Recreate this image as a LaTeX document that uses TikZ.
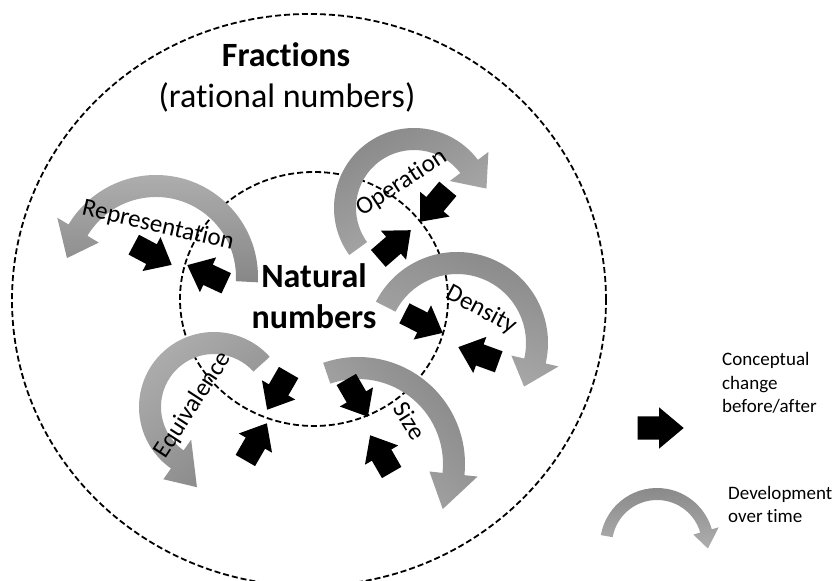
\documentclass[tikz,border=0pt]{standalone}
\usepackage{fontspec}
\setmainfont{Carlito}[Ligatures=NoCommon]
\usepackage{tikz}
\usetikzlibrary{calc,shapes.arrows}

\definecolor{devdark}{HTML}{878787}
\definecolor{devlight}{HTML}{AEAEAE}

% centre, radius, band, start, end, tip, tip offset, shading angle
\newcommand{\devarrow}[8]{%
  \pgfmathsetmacro{\devin}{#2-#3}
  \pgfmathsetmacro{\devout}{#2+0.6*#3}
  \pgfmathsetmacro{\devlow}{#2-1.6*#3}
  \pgfmathsetmacro{\devtip}{#2-0.5*#3+#7}
  \shade[left color=devdark, right color=devlight, shading angle=#8]
    ($(#1)+(#4:#2)$) arc[start angle=#4, end angle=#5, radius=#2]
    -- ($(#1)+(#5:\devout)$) -- ($(#1)+(#6:\devtip)$) -- ($(#1)+(#5:\devlow)$)
    -- ($(#1)+(#5:\devin)$) arc[start angle=#5, end angle=#4, radius=\devin] -- cycle;
}

\begin{document}
\begin{tikzpicture}[x=1pt,y=1pt,
    circ/.style={dash pattern=on 6pt off 3pt, line width=1.8pt},
    chg/.style={single arrow, fill=black, inner xsep=0pt, inner ysep=11pt, minimum height=43pt,
      minimum width=38pt, single arrow head extend=8pt, single arrow tip angle=80, anchor=tip},
    title/.style={font=\fontsize{34}{40}\selectfont\bfseries, inner sep=0pt},
    subtitle/.style={font=\fontsize{34}{40}\selectfont, inner sep=0pt},
    lbl/.style={font=\fontsize{25}{28}\selectfont, inner sep=0pt},
    legend/.style={font=\fontsize{19}{23.5}\selectfont, align=left, inner sep=0pt}]
  \useasboundingbox (0,0) rectangle (839,581);

  % the two sets
  \draw[circ] (309,281) ellipse [x radius=297, y radius=286];
  \draw[circ] (314,282) ellipse [x radius=134, y radius=127];

  % development over time
  \foreach \cx/\cy/\r/\s/\e/\t/\o/\g in {156/304/102/-3/149/168/0/180,
      414/373/80/216/37/15/6/30, 457/238/91/153/-13/-33/0/-20,
      214/174/75/42/235/258/18/222, 358/117/107/109/-6/-28/0/-50}
    {\devarrow{\cx,\cy}{\r}{22}{\s}{\e}{\t}{\o}{\g}}

  % conceptual change
  \foreach \n/\x/\y/\a in {rep1/172/316/-28, rep2/187/316/155, op1/420/359/230,
      op2/411/351/41, den1/443/248/-27, den2/458/234/160, eq1/267/171/240,
      eq2/267/158/60, size1/368/164/300, size2/370/146/120}
    \node[chg, rotate=\a] (\n) at (\x,\y) {};

  \foreach \n/\x/\y/\a/\t in {rep/158/355/-13/Representation, op/402/398/33/Operation,
      den/481/271/-28/Density, eq/193/176/57/Equivalence, size/410/160/-58/Size}
    \node[lbl, rotate=\a] (\n) at (\x,\y) {\t};

  \node[title, anchor=base] (frac) at (286,514) {Fractions};
  \node[subtitle, anchor=base] (rat) at (287,473) {(rational numbers)};
  \node[title, anchor=base] (nat) at (314,293) {Natural};
  \node[title, anchor=base] (num) at (314,252) {numbers};

  % legend
  \node[chg, minimum height=46pt, minimum width=41pt, inner ysep=11.5pt,
    single arrow head extend=9pt] (chgkey) at (684,153) {};
  \node[legend, anchor=base west] (chgtext) at (722,168) {Conceptual\\change\\before/after};
  \devarrow{657,36}{57}{12}{170}{16}{-4}{0}{0}
  \node[legend, anchor=base west] (devtext) at (728,58) {Development\\over time};
\end{tikzpicture}
\end{document}
